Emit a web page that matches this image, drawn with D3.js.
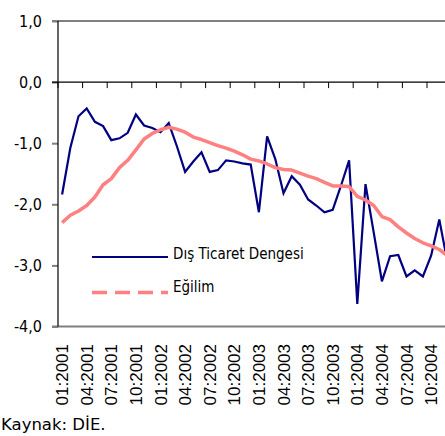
<!DOCTYPE html>
<html>
<head>
<meta charset="utf-8">
<script src="https://cdn.jsdelivr.net/npm/d3@7"></script>
<style>
  body { margin: 0; background: #fff; }
  svg { display: block; }
</style>
</head>
<body>
<svg width="445" height="436"></svg>
<script>
// Data
const months = [
  "01:2001","02:2001","03:2001","04:2001","05:2001","06:2001","07:2001","08:2001","09:2001","10:2001","11:2001","12:2001",
  "01:2002","02:2002","03:2002","04:2002","05:2002","06:2002","07:2002","08:2002","09:2002","10:2002","11:2002","12:2002",
  "01:2003","02:2003","03:2003","04:2003","05:2003","06:2003","07:2003","08:2003","09:2003","10:2003","11:2003","12:2003",
  "01:2004","02:2004","03:2004","04:2004","05:2004","06:2004","07:2004","08:2004","09:2004","10:2004","11:2004","12:2004"
];
const tickLabels = ["01:2001","04:2001","07:2001","10:2001","01:2002","04:2002","07:2002","10:2002",
  "01:2003","04:2003","07:2003","10:2003","01:2004","04:2004","07:2004","10:2004"];
const yTicks = [1, 0, -1, -2, -3, -4];

// Dış Ticaret Dengesi
const balance = [
  -1.84, -1.08, -0.56, -0.43, -0.65, -0.72, -0.95, -0.92, -0.83, -0.53, -0.71, -0.75,
  -0.82, -0.67, -1.05, -1.47, -1.30, -1.15, -1.47, -1.44, -1.28, -1.30, -1.33, -1.35,
  -2.13, -0.89, -1.26, -1.82, -1.54, -1.68, -1.92, -2.02, -2.13, -2.09, -1.70, -1.28,
  -3.63, -1.67, -2.46, -3.26, -2.85, -2.83, -3.18, -3.08, -3.18, -2.84, -2.25, -2.95
];
// Eğilim
const trend = [
  -2.30, -2.18, -2.11, -2.02, -1.88, -1.68, -1.58, -1.40, -1.28, -1.11, -0.93, -0.84,
  -0.78, -0.74, -0.77, -0.82, -0.90, -0.94, -0.99, -1.04, -1.08, -1.13, -1.19, -1.26,
  -1.29, -1.34, -1.40, -1.43, -1.44, -1.49, -1.54, -1.58, -1.64, -1.70, -1.70, -1.71,
  -1.87, -1.93, -2.02, -2.20, -2.25, -2.37, -2.47, -2.56, -2.63, -2.68, -2.74, -2.84
];

const svg = d3.select("svg");
const left = 58, right = 445;
const condensed = "'DejaVu Sans Condensed', 'DejaVu Sans'";

const x = d3.scaleBand()
    .domain(months)
    .range([left, left + months.length * 8.2]);
const cx = m => x(m) + x.bandwidth() / 2;

const y = d3.scaleLinear()
    .domain([-4, 1])
    .range([326.5, 21]);

const fmt = d3.formatLocale({decimal: ",", thousands: ".", grouping: [3], currency: ["", ""], minus: "-"}).format(".1f");

// y axis with labels
const yAxis = svg.append("g")
    .attr("transform", `translate(${left},0)`)
    .call(d3.axisLeft(y).tickValues(yTicks).tickSize(6).tickPadding(10).tickFormat(fmt));
yAxis.select(".domain").remove();
yAxis.selectAll(".tick line").attr("stroke", "#808080").attr("stroke-width", 2);
yAxis.selectAll(".tick text")
    .attr("fill", "#000")
    .style("font-family", condensed)
    .style("font-stretch", "condensed")
    .style("font-size", "16px");

// horizontal lines at top and bottom
svg.append("g")
    .selectAll("line")
    .data([1, -4])
    .join("line")
    .attr("x1", left - 6).attr("x2", right)
    .attr("y1", d => y(d)).attr("y2", d => y(d))
    .attr("stroke", "#808080")
    .attr("stroke-width", 2);

// vertical axis line
svg.append("line")
    .attr("x1", left).attr("x2", left)
    .attr("y1", y(1)).attr("y2", y(-4))
    .attr("stroke", "#000")
    .attr("stroke-width", 1.2);

// zero line with category ticks
svg.append("line")
    .attr("x1", left - 6).attr("x2", right)
    .attr("y1", y(0)).attr("y2", y(0))
    .attr("stroke", "#000")
    .attr("stroke-width", 1.2);

svg.append("g")
    .selectAll("line")
    .data(tickLabels)
    .join("line")
    .attr("x1", d => x(d)).attr("x2", d => x(d))
    .attr("y1", y(0)).attr("y2", y(0) + 6)
    .attr("stroke", "#000")
    .attr("stroke-width", 1);

// x labels, rotated
svg.append("g")
    .selectAll("text")
    .data(tickLabels)
    .join("text")
    .attr("transform", d => `translate(${cx(d)},344) rotate(-90)`)
    .attr("text-anchor", "end")
    .attr("dy", "0.36em")
    .style("font-family", "'Liberation Sans', Arial, sans-serif")
    .style("font-size", "17px")
    .text(d => d);

// series
const line = d3.line()
    .x((d, i) => cx(months[i]))
    .y(d => y(d));

svg.append("path")
    .datum(balance)
    .attr("d", line)
    .attr("fill", "none")
    .attr("stroke", "#000080")
    .attr("stroke-width", 2.2);

svg.append("path")
    .datum(trend)
    .attr("d", line)
    .attr("fill", "none")
    .attr("stroke", "#ff8080")
    .attr("stroke-width", 3.5)
    .attr("stroke-linejoin", "round");

// legend
const legend = svg.append("g")
    .style("font-family", condensed)
    .style("font-stretch", "condensed")
    .style("font-size", "15px");

legend.append("line")
    .attr("x1", 92).attr("x2", 168).attr("y1", 257).attr("y2", 257)
    .attr("stroke", "#000080").attr("stroke-width", 2.2);
legend.append("text").attr("x", 173).attr("y", 259).text("Dış Ticaret Dengesi");

legend.append("line")
    .attr("x1", 92).attr("x2", 168).attr("y1", 292.5).attr("y2", 292.5)
    .attr("stroke", "#ff8080").attr("stroke-width", 3.5)
    .attr("stroke-dasharray", "15,8");
legend.append("text").attr("x", 173).attr("y", 292).text("Eğilim");

// source
svg.append("text")
    .attr("x", 1).attr("y", 430)
    .style("font-family", "'DejaVu Sans'")
    .style("font-size", "16.5px")
    .text("Kaynak: DİE.");
</script>
</body>
</html>
